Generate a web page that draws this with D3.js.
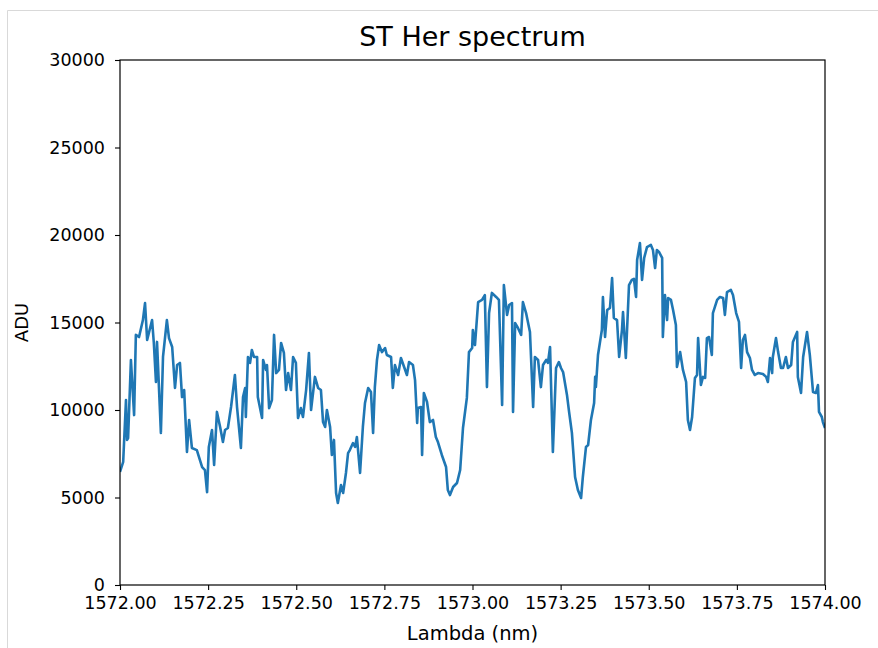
<!DOCTYPE html>
<html>
<head>
<meta charset="utf-8">
<script src="https://cdn.jsdelivr.net/npm/d3@7"></script>
<style>
  html, body { margin: 0; padding: 0; background: #fff; }
  svg { display: block; }
  text { font-family: "DejaVu Sans", sans-serif; fill: #000; }
</style>
</head>
<body>
<svg id="chart" width="878" height="648"></svg>
<script>
// Wavelength samples (nm)
const lambda = [
  1572.000, 1572.009, 1572.017, 1572.020, 1572.023, 1572.031, 1572.040, 1572.045, 1572.054, 1572.065,
  1572.071, 1572.077, 1572.091, 1572.096, 1572.102, 1572.105, 1572.116, 1572.122, 1572.133, 1572.139,
  1572.148, 1572.156, 1572.162, 1572.170, 1572.176, 1572.182, 1572.190, 1572.196, 1572.204, 1572.218,
  1572.233, 1572.241, 1572.247, 1572.252, 1572.261, 1572.267, 1572.275, 1572.284, 1572.292, 1572.298,
  1572.306, 1572.315, 1572.326, 1572.332, 1572.343, 1572.349, 1572.355, 1572.357, 1572.363, 1572.369,
  1572.374, 1572.380, 1572.389, 1572.391, 1572.403, 1572.406, 1572.414, 1572.417, 1572.423, 1572.431,
  1572.437, 1572.443, 1572.451, 1572.457, 1572.465, 1572.471, 1572.477, 1572.485, 1572.491, 1572.499,
  1572.505, 1572.513, 1572.519, 1572.528, 1572.536, 1572.542, 1572.553, 1572.562, 1572.570, 1572.576,
  1572.582, 1572.587, 1572.596, 1572.601, 1572.607, 1572.613, 1572.618, 1572.627, 1572.633, 1572.641,
  1572.647, 1572.652, 1572.661, 1572.667, 1572.672, 1572.681, 1572.689, 1572.695, 1572.704, 1572.712,
  1572.718, 1572.723, 1572.729, 1572.735, 1572.743, 1572.752, 1572.757, 1572.769, 1572.774, 1572.780,
  1572.789, 1572.797, 1572.806, 1572.814, 1572.820, 1572.831, 1572.837, 1572.843, 1572.845, 1572.854,
  1572.857, 1572.862, 1572.871, 1572.879, 1572.888, 1572.896, 1572.902, 1572.913, 1572.925, 1572.930,
  1572.936, 1572.945, 1572.956, 1572.965, 1572.973, 1572.984, 1572.990, 1572.999, 1573.001, 1573.007,
  1573.016, 1573.027, 1573.035, 1573.041, 1573.047, 1573.055, 1573.067, 1573.075, 1573.084, 1573.089,
  1573.098, 1573.104, 1573.112, 1573.115, 1573.121, 1573.129, 1573.138, 1573.143, 1573.152, 1573.163,
  1573.172, 1573.177, 1573.186, 1573.194, 1573.200, 1573.209, 1573.214, 1573.220, 1573.228, 1573.237,
  1573.245, 1573.251, 1573.257, 1573.268, 1573.274, 1573.282, 1573.291, 1573.299, 1573.308, 1573.313,
  1573.322, 1573.328, 1573.336, 1573.345, 1573.348, 1573.350, 1573.356, 1573.367, 1573.370, 1573.376,
  1573.382, 1573.390, 1573.396, 1573.401, 1573.410, 1573.416, 1573.424, 1573.427, 1573.435, 1573.444,
  1573.452, 1573.458, 1573.464, 1573.467, 1573.475, 1573.481, 1573.487, 1573.495, 1573.506, 1573.512,
  1573.518, 1573.523, 1573.529, 1573.538, 1573.540, 1573.546, 1573.552, 1573.555, 1573.563, 1573.569,
  1573.577, 1573.580, 1573.589, 1573.597, 1573.606, 1573.611, 1573.617, 1573.623, 1573.631, 1573.637,
  1573.640, 1573.648, 1573.654, 1573.660, 1573.665, 1573.671, 1573.679, 1573.682, 1573.694, 1573.702,
  1573.711, 1573.716, 1573.722, 1573.733, 1573.739, 1573.748, 1573.756, 1573.762, 1573.767, 1573.773,
  1573.779, 1573.787, 1573.793, 1573.801, 1573.810, 1573.824, 1573.833, 1573.838, 1573.844, 1573.850,
  1573.852, 1573.861, 1573.867, 1573.875, 1573.881, 1573.889, 1573.895, 1573.904, 1573.909, 1573.921,
  1573.923, 1573.932, 1573.938, 1573.949, 1573.957, 1573.966, 1573.974, 1573.980, 1573.983, 1573.991,
  1573.994, 1574.000
];

// Detector counts (ADU) at each wavelength
const adu = [
   6460,  7030, 10570,  8290,  8400, 12860,  9710, 14290, 14170, 15140,
  16110, 14000, 15140, 13830, 11600, 13890,  8690, 13030, 15140, 14110,
  13600, 11260, 12570, 12690, 10740, 11140,  7600,  9430,  7830,  7710,
   6740,  6570,  5310,  7890,  8860,  6860,  9890,  9030,  8170,  8860,
   8970, 10170, 12000, 10170,  7830, 10740, 11260,  9600, 13030, 12690,
  13430, 13030, 13030, 10740,  9540, 12860, 12290, 12570, 10110, 10570,
  14290, 12110, 12290, 13830, 13260, 11140, 12110, 11140, 13030, 12690,
   9540, 10110,  9600, 11140, 13260, 10000, 11890, 11260, 11140,  9310,
   9030, 10000,  9030,  7430,  8290,  5260,  4690,  5710,  5260,  6400,
   7540,  7710,  8110,  7890,  8460,  6400,  9030, 10400, 11260, 11030,
   8690, 11310, 12860, 13710, 13310, 13540, 13140, 13030, 11260, 12570,
  12000, 12970, 12460, 12000, 12740, 12570, 11710,  9260, 10110, 10170,
   7430, 10970, 10460,  9310,  9430,  8460,  8170,  7430,  6740,  5430,
   5140,  5600,  5830,  6570,  8970, 10690, 13310, 13540, 14570, 13710,
  16170, 16290, 16570, 11310, 15540, 16690, 16460, 16290, 10290, 17140,
  15430, 16000, 16110,  9890, 14970, 14690, 14290, 16170, 15540, 14460,
  10170, 13030, 12860, 11310, 12570, 12860, 12690, 13600,  7600, 12400,
  12740, 12400, 12170, 10860,  9890,  8690,  6170,  5430,  4970,  6170,
   7890,  8000,  9430, 10400, 11890, 11310, 13140, 14570, 16460, 14170,
  15710, 15830, 17540, 15260, 15140, 13030, 14570, 15600, 12970, 17140,
  17430, 17490, 16460, 18570, 19540, 17430, 18690, 19310, 19430, 19140,
  18110, 19140, 19030, 18690, 14170, 16570, 15140, 16400, 16290, 15710,
  14860, 12460, 13310, 12290, 11600,  9430,  8860,  9600, 11830, 12000,
  14110, 11430, 11890, 11830, 14110, 14170, 13140, 15540, 16290, 16460,
  16400, 15430, 16740, 16860, 16570, 15540, 15030, 12400, 14000, 14290,
  13310, 12970, 12290, 12000, 12110, 12060, 11890, 11600, 12970, 12110,
  13030, 14110, 13310, 12400, 12400, 13030, 12400, 12570, 13890, 14460,
  11890, 10970, 13030, 14460, 13140, 11030, 10970, 11430,  9890,  9600,
   9310,  8970
];

// Axis ticks
const xTicks = [1572.00, 1572.25, 1572.50, 1572.75, 1573.00, 1573.25, 1573.50, 1573.75, 1574.00];
const yTicks = [0, 5000, 10000, 15000, 20000, 25000, 30000];

const titleText = "ST Her spectrum";
const xLabel = "Lambda (nm)";
const yLabel = "ADU";

const svg = d3.select("#chart");
const W = 878, H = 648;
const plot = { left: 120, top: 60, right: 825, bottom: 585 };

// Thin outer frame around the figure
svg.append("path")
  .attr("d", `M7.5,${H} L7.5,10.5 L${W},10.5`)
  .attr("fill", "none")
  .attr("stroke", "#d9d9d9")
  .attr("stroke-width", 1);

const x = d3.scaleLinear().domain([1572, 1574]).range([plot.left, plot.right]);
const y = d3.scaleLinear().domain([0, 30000]).range([plot.bottom, plot.top]);

// Spectrum trace, clipped to the axes box
svg.append("clipPath").attr("id", "plotClip")
  .append("rect")
  .attr("x", plot.left).attr("y", plot.top)
  .attr("width", plot.right - plot.left).attr("height", plot.bottom - plot.top);

const points = lambda.map((l, i) => [l, adu[i]]);
const line = d3.line().x(d => x(d[0])).y(d => y(d[1]));

svg.append("path")
  .datum(points)
  .attr("clip-path", "url(#plotClip)")
  .attr("fill", "none")
  .attr("stroke", "#1f77b4")
  .attr("stroke-width", 2.6)
  .attr("stroke-linejoin", "round")
  .attr("stroke-linecap", "butt")
  .attr("d", line);

// Axes box
svg.append("rect")
  .attr("x", plot.left).attr("y", plot.top)
  .attr("width", plot.right - plot.left).attr("height", plot.bottom - plot.top)
  .attr("fill", "none").attr("stroke", "#000").attr("stroke-width", 1.2);

const xAxis = svg.append("g")
  .attr("transform", `translate(0,${plot.bottom})`)
  .call(d3.axisBottom(x).tickValues(xTicks).tickFormat(d3.format(".2f")).tickSize(5).tickPadding(7));
const yAxis = svg.append("g")
  .attr("transform", `translate(${plot.left},0)`)
  .call(d3.axisLeft(y).tickValues(yTicks).tickFormat(d3.format("d")).tickSize(5).tickPadding(10));

[xAxis, yAxis].forEach(g => {
  g.select(".domain").remove();
  g.selectAll(".tick line").attr("stroke", "#000").attr("stroke-width", 1.1);
  g.selectAll(".tick text")
    .attr("font-family", "DejaVu Sans, sans-serif")
    .attr("font-size", 17.5)
    .attr("fill", "#111");
});

// Title and axis labels
svg.append("text")
  .attr("x", (plot.left + plot.right) / 2).attr("y", 46)
  .attr("text-anchor", "middle")
  .attr("font-size", 27)
  .text(titleText);

svg.append("text")
  .attr("x", (plot.left + plot.right) / 2).attr("y", 640)
  .attr("text-anchor", "middle")
  .attr("font-size", 19.5)
  .attr("fill", "#111")
  .text(xLabel);

svg.append("text")
  .attr("transform", `translate(28,${(plot.top + plot.bottom) / 2}) rotate(-90)`)
  .attr("text-anchor", "middle")
  .attr("font-size", 18)
  .attr("fill", "#111")
  .text(yLabel);
</script>
</body>
</html>
